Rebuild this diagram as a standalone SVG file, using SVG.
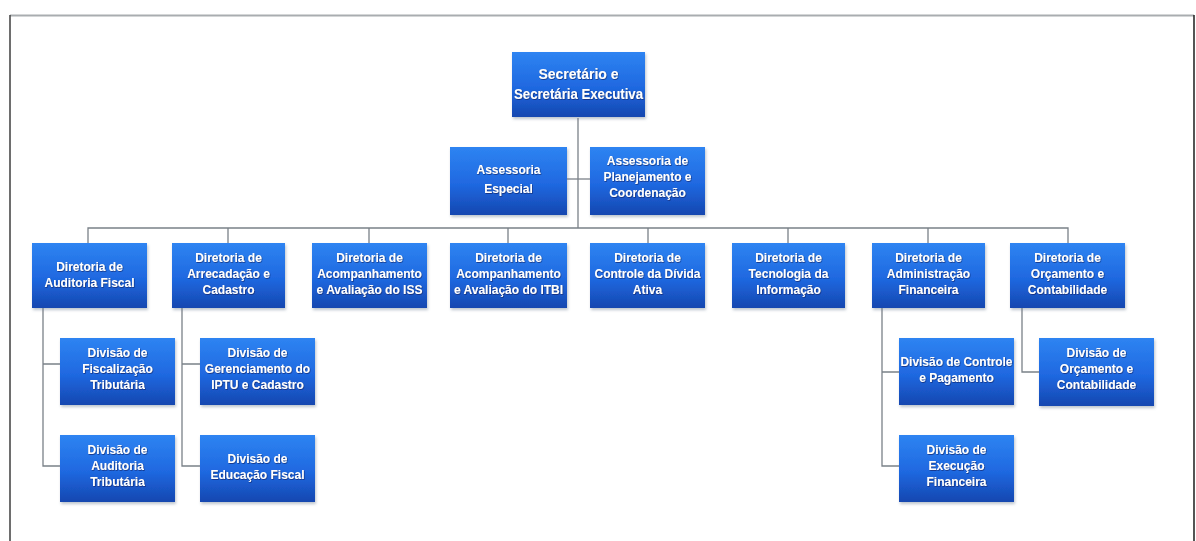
<svg xmlns="http://www.w3.org/2000/svg" width="1196" height="541" viewBox="0 0 1196 541">
<defs>
<linearGradient id="g" x1="0" y1="0" x2="0" y2="1">
<stop offset="0" stop-color="#2e84f2"/>
<stop offset="0.55" stop-color="#1f68e0"/>
<stop offset="1" stop-color="#1547b0"/>
</linearGradient>
<filter id="sh" x="-10%" y="-10%" width="125%" height="130%">
<feDropShadow dx="1" dy="2" stdDeviation="1.5" flood-color="#6a7a90" flood-opacity="0.45"/>
</filter>
<filter id="ts" x="-5%" y="-20%" width="110%" height="140%">
<feDropShadow dx="0.6" dy="0.8" stdDeviation="0.4" flood-color="#0a2060" flood-opacity="0.8"/>
</filter>
</defs>
<style>
.box{fill:url(#g);filter:url(#sh);}
.t{font-family:"Liberation Sans","Arial",sans-serif;font-weight:bold;font-size:12px;fill:#ffffff;text-anchor:middle;filter:url(#ts);}
.tl{font-size:14px;}
.c{stroke:#7a8188;stroke-width:1.3;fill:none;}
</style>
<rect x="0" y="0" width="1196" height="541" fill="#ffffff"/>
<g id="frame">
<line x1="10" y1="15.5" x2="1194" y2="15.5" stroke="#a9adb0" stroke-width="1.8"/>
<line x1="10" y1="15" x2="10" y2="541" stroke="#4a4a4a" stroke-width="1.6"/>
<line x1="1194" y1="15" x2="1194" y2="541" stroke="#2a2a2a" stroke-width="1.6"/>
</g>
<g id="connectors">
<path class="c" d="M578 118 V228"/>
<path class="c" d="M567 179 H590"/>
<path class="c" d="M88 243 V228 H1068 V243"/>
<path class="c" d="M228 228 V243 M369 228 V243 M508 228 V243 M648 228 V243 M788 228 V243 M928 228 V243"/>
<path class="c" d="M43 308 V466 H60 M43 364 H60"/>
<path class="c" d="M182 308 V466 H200 M182 364 H200"/>
<path class="c" d="M882 308 V466 H899 M882 372 H899"/>
<path class="c" d="M1022 308 V372 H1039"/>
</g>
<g id="n-secretario"><rect class="box" x="512" y="52" width="133" height="65"/>
<text class="t tl" x="578.5" y="79">Secretário  e</text><text class="t tl" x="578.5" y="99" textLength="129" lengthAdjust="spacingAndGlyphs">Secretária Executiva</text></g>
<g id="n-assessoria-especial"><rect class="box" x="450" y="147" width="117" height="68"/>
<text class="t" x="508.5" y="174">Assessoria</text><text class="t" x="508.5" y="193">Especial</text></g>
<g id="n-assessoria-planejamento"><rect class="box" x="590" y="147" width="115" height="68"/>
<text class="t" x="647.5" y="165">Assessoria de</text><text class="t" x="647.5" y="181">Planejamento e</text><text class="t" x="647.5" y="197">Coordenação</text></g>
<g id="n-dir-auditoria"><rect class="box" x="32" y="243" width="115" height="65"/>
<text class="t" x="89.5" y="271">Diretoria de</text><text class="t" x="89.5" y="287">Auditoria Fiscal</text></g>
<g id="n-dir-arrecadacao"><rect class="box" x="172" y="243" width="113" height="65"/>
<text class="t" x="228.5" y="262">Diretoria de</text><text class="t" x="228.5" y="278">Arrecadação e</text><text class="t" x="228.5" y="294">Cadastro</text></g>
<g id="n-dir-iss"><rect class="box" x="312" y="243" width="115" height="65"/>
<text class="t" x="369.5" y="262">Diretoria de</text><text class="t" x="369.5" y="278">Acompanhamento</text><text class="t" x="369.5" y="294">e Avaliação do ISS</text></g>
<g id="n-dir-itbi"><rect class="box" x="450" y="243" width="117" height="65"/>
<text class="t" x="508.5" y="262">Diretoria de</text><text class="t" x="508.5" y="278">Acompanhamento</text><text class="t" x="508.5" y="294">e Avaliação do ITBI</text></g>
<g id="n-dir-divida"><rect class="box" x="590" y="243" width="115" height="65"/>
<text class="t" x="647.5" y="262">Diretoria de</text><text class="t" x="647.5" y="278">Controle da Dívida</text><text class="t" x="647.5" y="294">Ativa</text></g>
<g id="n-dir-tecnologia"><rect class="box" x="732" y="243" width="113" height="65"/>
<text class="t" x="788.5" y="262">Diretoria de</text><text class="t" x="788.5" y="278">Tecnologia da</text><text class="t" x="788.5" y="294">Informação</text></g>
<g id="n-dir-administracao"><rect class="box" x="872" y="243" width="113" height="65"/>
<text class="t" x="928.5" y="262">Diretoria de</text><text class="t" x="928.5" y="278">Administração</text><text class="t" x="928.5" y="294">Financeira</text></g>
<g id="n-dir-orcamento"><rect class="box" x="1010" y="243" width="115" height="65"/>
<text class="t" x="1067.5" y="262">Diretoria de</text><text class="t" x="1067.5" y="278">Orçamento e</text><text class="t" x="1067.5" y="294">Contabilidade</text></g>
<g id="n-div-fiscalizacao"><rect class="box" x="60" y="338" width="115" height="67"/>
<text class="t" x="117.5" y="357">Divisão de</text><text class="t" x="117.5" y="373">Fiscalização</text><text class="t" x="117.5" y="389">Tributária</text></g>
<g id="n-div-auditoria"><rect class="box" x="60" y="435" width="115" height="67"/>
<text class="t" x="117.5" y="454">Divisão de</text><text class="t" x="117.5" y="470">Auditoria</text><text class="t" x="117.5" y="486">Tributária</text></g>
<g id="n-div-gerenciamento"><rect class="box" x="200" y="338" width="115" height="67"/>
<text class="t" x="257.5" y="357">Divisão de</text><text class="t" x="257.5" y="373">Gerenciamento do</text><text class="t" x="257.5" y="389">IPTU e Cadastro</text></g>
<g id="n-div-educacao"><rect class="box" x="200" y="435" width="115" height="67"/>
<text class="t" x="257.5" y="463">Divisão de</text><text class="t" x="257.5" y="479">Educação Fiscal</text></g>
<g id="n-div-controle"><rect class="box" x="899" y="338" width="115" height="67"/>
<text class="t" x="956.5" y="366" textLength="112" lengthAdjust="spacingAndGlyphs">Divisão de Controle</text><text class="t" x="956.5" y="382">e Pagamento</text></g>
<g id="n-div-execucao"><rect class="box" x="899" y="435" width="115" height="67"/>
<text class="t" x="956.5" y="454">Divisão de</text><text class="t" x="956.5" y="470">Execução</text><text class="t" x="956.5" y="486">Financeira</text></g>
<g id="n-div-orcamento"><rect class="box" x="1039" y="338" width="115" height="68"/>
<text class="t" x="1096.5" y="357">Divisão de</text><text class="t" x="1096.5" y="373">Orçamento e</text><text class="t" x="1096.5" y="389">Contabilidade</text></g>
</svg>
